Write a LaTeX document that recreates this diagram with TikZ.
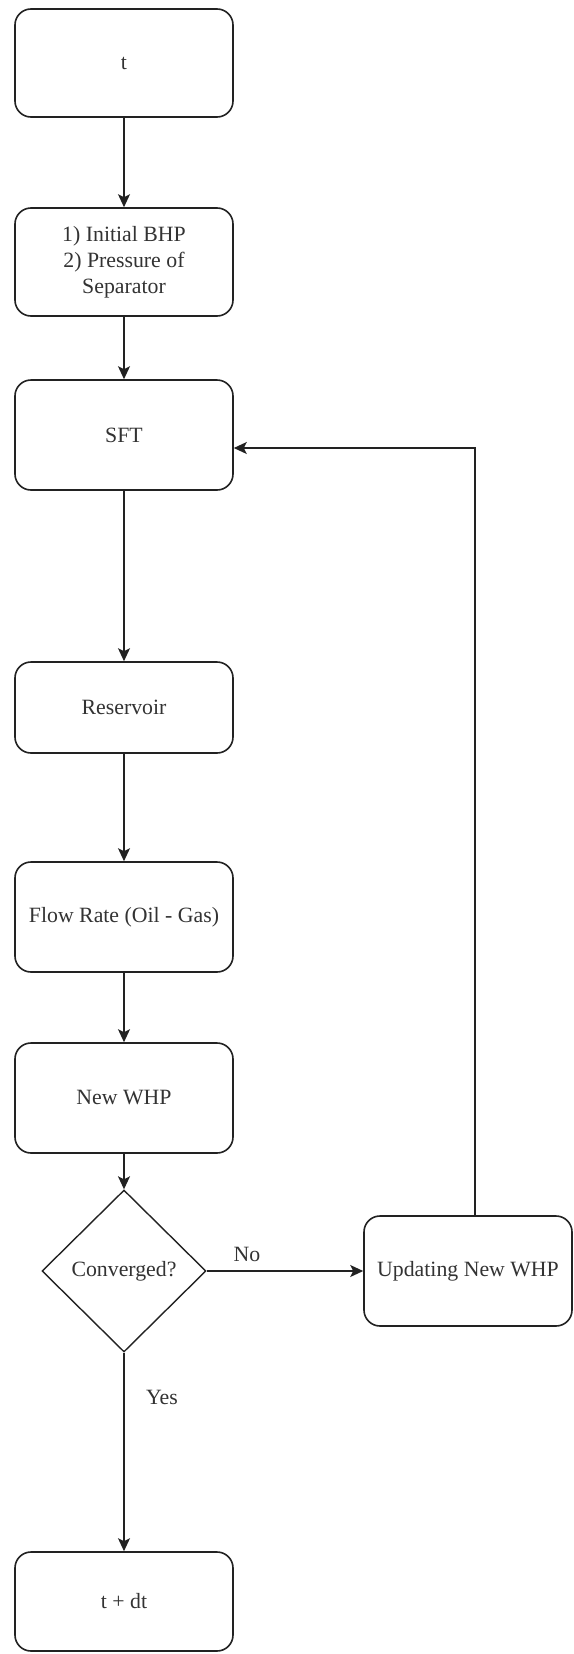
\documentclass[tikz,border=0pt]{standalone}
\usepackage{fontspec}
\newfontfamily\tnr{LiberationSerif-Regular.ttf}
\usetikzlibrary{arrows.meta,shapes.geometric}
\definecolor{ink}{HTML}{222222}
\definecolor{txt}{HTML}{333333}
\tikzset{
  procbox/.style={draw=ink, line width=1.6pt, rounded corners=16pt, rectangle,
    minimum width=218pt, inner sep=0pt, align=center, text=txt,
    font=\tnr\fontsize{21.8}{26}\selectfont},
  decbox/.style={draw=ink, line width=1.4pt, diamond, aspect=1, inner sep=0pt,
    minimum width=164pt, minimum height=162pt, text=txt,
    font=\tnr\fontsize{21.8}{26}\selectfont},
  lbl/.style={text=txt, inner sep=0pt, font=\tnr\fontsize{21.8}{26}\selectfont},
  arr/.style={draw=ink, line width=1.6pt, -{Stealth[length=13pt,width=12pt,inset=3pt]}}
}
\begin{document}
\begin{tikzpicture}[x=1pt,y=-1pt]
\fill[white] (0,0) rectangle (573,1654);
\useasboundingbox (0,0) rectangle (573,1654);

\node[procbox, minimum height=108pt] (t) at (124,63) {t};
\node[procbox, minimum height=108pt] (init) at (124,262) {1) Initial BHP\\2) Pressure of\\Separator};
\node[procbox, minimum height=110pt] (sft) at (124,435) {SFT};
\node[procbox, minimum height=91pt] (res) at (124,707.5) {Reservoir};
\node[procbox, minimum height=110pt] (flow) at (124,917) {Flow Rate (Oil - Gas)};
\node[procbox, minimum height=110pt] (whp) at (124,1098) {New WHP};
\node[decbox] (conv) at (124,1271) {Converged?};
\node[procbox, minimum width=208pt, minimum height=110pt] (upd) at (468,1271) {Updating New WHP};
\node[procbox, minimum height=99pt] (next) at (124,1601.5) {t + dt};

\node[lbl] (no) at (247,1254) {No};
\node[lbl] (yes) at (162,1397) {Yes};

\draw[arr] (t.south) -- (init.north);
\draw[arr] (init.south) -- (sft.north);
\draw[arr] (sft.south) -- (res.north);
\draw[arr] (res.south) -- (flow.north);
\draw[arr] (flow.south) -- (whp.north);
\draw[arr] (whp.south) -- (conv.north);
\draw[arr] (conv.east) -- (upd.west);
\draw[arr] (conv.south) -- (next.north);
\draw[arr] ([xshift=7pt]upd.north) |- ([yshift=-13pt]sft.east);
\end{tikzpicture}
\end{document}
